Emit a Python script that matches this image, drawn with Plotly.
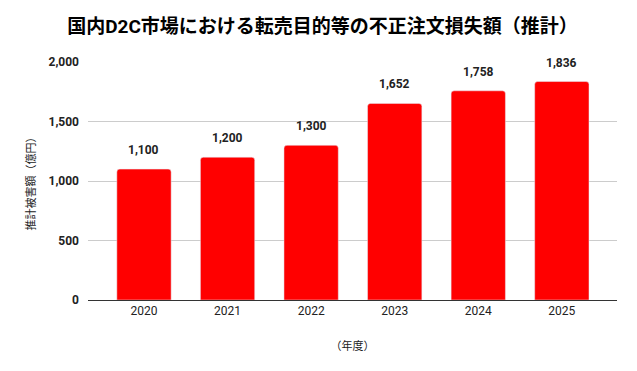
import plotly.graph_objects as go

years = ["2020", "2021", "2022", "2023", "2024", "2025"]
values = [1100, 1200, 1300, 1652, 1758, 1836]
labels = ["1,100", "1,200", "1,300", "1,652", "1,758", "1,836"]

FONT = "Roboto, Noto Sans CJK JP, sans-serif"

fig = go.Figure()
fig.add_trace(go.Bar(
    x=list(range(len(years))), y=values,
    marker=dict(color="#ff0000", cornerradius=3), width=0.65,
    hoverinfo="skip",
))
for i, (v, t) in enumerate(zip(values, labels)):
    fig.add_annotation(x=i, y=v, text=f"<b>{t}</b>", showarrow=False,
                       yshift=19, font=dict(family=FONT, size=12, color="#222222"))
# page body has an 8px margin; size the figure to fit the 637x371 window
fig.update_layout(
    width=629, height=363,
    margin=dict(l=80, r=20, t=54, b=71, autoexpand=False),
    paper_bgcolor="white", plot_bgcolor="white",
    title=dict(text="<b>国内D2C市場における転売目的等の不正注文損失額（推計）</b>",
               x=0.5, xanchor="center", y=0.95, yanchor="middle",
               font=dict(family=FONT, size=19, color="#000000")),
    showlegend=False,
    font=dict(family=FONT),
)
fig.update_xaxes(
    tickmode="array", tickvals=list(range(len(years))), ticktext=years,
    range=[-0.67, 5.66], showgrid=False, showline=True, linecolor="#333333",
    tickfont=dict(family=FONT, size=12, color="#222222"), ticks="", automargin=False,
    title=dict(text="（年度）", font=dict(family=FONT, size=11, color="#222222"), standoff=24),
)
fig.update_yaxes(
    range=[0, 2000], tickvals=[0, 500, 1000, 1500, 2000],
    ticktext=["<b>0</b>", "<b>500</b>", "<b>1,000</b>", "<b>1,500</b>", "<b>2,000</b>"],
    showgrid=True, gridcolor="#cccccc", zeroline=False, automargin=False,
    tickfont=dict(family=FONT, size=12, color="#222222"), ticklabelstandoff=8,
    title=dict(text="推計被害額（億円）", font=dict(family=FONT, size=11, color="#222222"), standoff=10),
)
fig.write_html("out.html")
